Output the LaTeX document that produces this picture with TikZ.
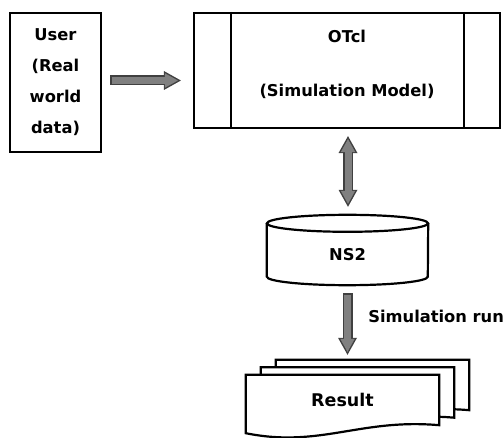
\documentclass[tikz,border=0pt]{standalone}
\usepackage{fontspec}
\setmainfont{DejaVu Sans}
\usetikzlibrary{arrows.meta,calc,backgrounds}

\begin{document}
\begin{tikzpicture}[x=1pt,y=1pt,
  bline/.style={draw,line width=2.2pt},
  box/.style={bline,inner sep=0},
  txt/.style={font=\bfseries\fontsize{16.3}{31}\selectfont},
  blockarrow/.style={draw=black!50,line width=7pt,shorten <=1.5pt,shorten >=3pt,
    -{Triangle[length=13pt,width=14.5pt,line width=0pt]},
    preaction={draw=black!75,line width=10pt,shorten <=0pt,shorten >=0pt,
      -{Triangle[length=17pt,width=19pt,line width=0pt]}}},
  dblarrow/.style={draw=black!50,line width=7pt,shorten <=3pt,shorten >=3pt,
    {Triangle[length=13pt,width=14.5pt,line width=0pt]}-{Triangle[length=13pt,width=14.5pt,line width=0pt]},
    preaction={draw=black!75,line width=10pt,shorten <=0pt,shorten >=0pt,
      {Triangle[length=17pt,width=19pt,line width=0pt]}-{Triangle[length=17pt,width=19pt,line width=0pt]}}}]

\useasboundingbox (0,0) rectangle (504,437);

% Nodes
\node[box,txt,align=center,minimum width=91,minimum height=139] (user) at (55.5,354.5) {User\\(Real\\world\\data)};
\node[box,minimum width=306,minimum height=115] (otcl) at (347,366.5) {};
\node[txt] (otclname) at ([yshift=-25]otcl.north) {OTcl};
\node[txt] (otclmodel) at ([yshift=38]otcl.south) {(Simulation Model)};
\node[minimum width=161,minimum height=70,inner sep=0] (ns2) at (347.5,187) {};
\node[txt] (ns2name) at ([yshift=-5]ns2.center) {NS2};
\node[font=\bfseries\fontsize{17.5}{20}\selectfont,minimum width=193,minimum height=50,inner sep=0] (res) at (342.5,37) {Result};

% side bars of the OTcl box
\draw[bline] ([xshift=38]otcl.north west) -- ([xshift=38]otcl.south west);
\draw[bline] ([xshift=-37]otcl.north east) -- ([xshift=-37]otcl.south east);

% NS2 drum
\draw[bline] ([yshift=-8.5]ns2.north) ellipse [x radius=80.5,y radius=8.5];
\draw[bline] ([yshift=-8.5]ns2.north west) -- ([yshift=8.5]ns2.south west)
  arc[start angle=180,end angle=360,x radius=80.5,y radius=8.5] -- ([yshift=-8.5]ns2.north east);

% stacked result sheets
\begin{scope}[on background layer]
\foreach \k in {2,1,0}
  \draw[bline,fill=white] ([xshift=15*\k,yshift=7.5*\k]res.north west) -- ([xshift=15*\k,yshift=7.5*\k]res.north east)
    -- ([xshift=15*\k,yshift=7.5*\k]res.south east) .. controls +(-79,7) and +(74,-15) .. ([xshift=15*\k,yshift=7.5*\k-8]res.south west) -- cycle;
\end{scope}

%arcs
\path ($(user.east)+(8,2)$) edge[blockarrow] ($(user.east -| otcl.west)+(-12,2)$);
\path ($(otcl.south)+(1,-7)$) edge[dblarrow] ($(otcl.south |- ns2.north)+(1,8)$);
\path ($(ns2.south)+(0,-8)$) edge[blockarrow] node[txt,pos=0.38,anchor=west,xshift=14] (run) {Simulation run} ($(ns2.south |- res.north)+(0,20)$);

\end{tikzpicture}
\end{document}
